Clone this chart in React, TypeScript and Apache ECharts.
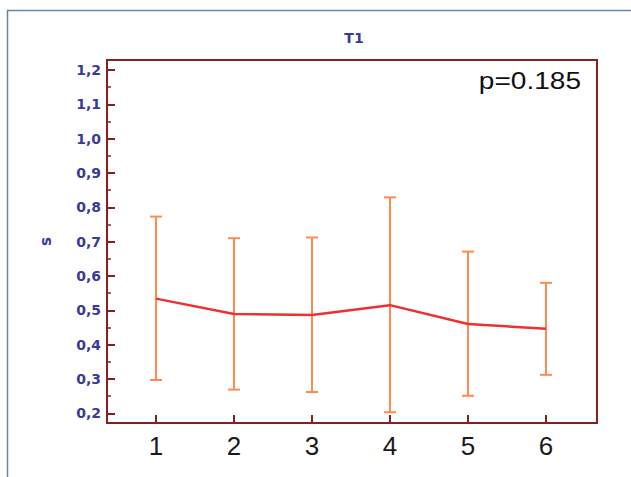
import React, { useEffect, useRef } from "react";
import * as echarts from "echarts";

const categories = [1, 2, 3, 4, 5, 6];
const means = [0.534, 0.489, 0.486, 0.515, 0.46, 0.446];
const upper = [0.773, 0.71, 0.712, 0.829, 0.671, 0.58];
const lower = [0.297, 0.269, 0.262, 0.203, 0.251, 0.312];
const yMajorTicks = [0.2, 0.3, 0.4, 0.5, 0.6, 0.7, 0.8, 0.9, 1.0, 1.1, 1.2];
const yMinorTicks = [0.25, 0.35, 0.45, 0.55, 0.65, 0.75, 0.85, 0.95, 1.05, 1.15];
const titleText = "T1";
const yName = "s";
const pText = "p=0.185";

const AXIS = "#8a1f1f";
const BLUE = "#3a3a98";

export default function App() {
  const ref = useRef<HTMLDivElement>(null);
  useEffect(() => {
    if (!ref.current) return;
    const chart = echarts.init(ref.current, undefined, { renderer: "svg" });
    const yMin = 0.1717;
    const yMax = 1.2291;
    chart.setOption({
      animation: false,
      backgroundColor: "#ffffff",
      title: {
        text: titleText,
        left: 354,
        top: 31,
        textAlign: "center",
        padding: 0,
        textStyle: { fontFamily: "DejaVu Sans", fontSize: 14, fontWeight: "bold", color: BLUE },
      },
      grid: {
        left: 107,
        right: 34,
        top: 60,
        bottom: 54,
        show: true,
        borderColor: AXIS,
        borderWidth: 2,
        backgroundColor: "transparent",
      },
      xAxis: {
        type: "value",
        min: 0.372,
        max: 6.654,
        axisLine: { show: true, lineStyle: { color: AXIS, width: 2 } },
        axisTick: { show: true, inside: true, length: 8, customValues: categories, lineStyle: { color: AXIS, width: 2 } },
        axisLabel: {
          customValues: categories,
          fontFamily: "Liberation Sans",
          fontSize: 26,
          color: "#1a1a1a",
          margin: 10,
        },
        splitLine: { show: false },
      },
      yAxis: [
        {
          type: "value",
          min: yMin,
          max: yMax,
          name: yName,
          nameLocation: "middle",
          nameGap: 54,
          nameRotate: 90,
          nameTextStyle: { fontFamily: "DejaVu Sans", fontSize: 15, fontWeight: "bold", color: BLUE },
          axisLine: { show: true, lineStyle: { color: AXIS, width: 2 } },
          axisTick: { show: true, inside: true, length: 8, customValues: yMajorTicks, lineStyle: { color: AXIS, width: 2 } },
          axisLabel: {
            customValues: yMajorTicks,
            formatter: (v: number) => v.toFixed(1).replace(".", ","),
            fontFamily: "DejaVu Sans",
            fontSize: 14,
            fontWeight: "bold",
            color: BLUE,
            margin: 6,
          },
          splitLine: { show: false },
        },
        {
          type: "value",
          min: yMin,
          max: yMax,
          position: "left",
          axisLine: { show: false },
          axisTick: { show: true, inside: true, length: 4, customValues: yMinorTicks, lineStyle: { color: AXIS, width: 1.5 } },
          axisLabel: { show: false },
          splitLine: { show: false },
        },
      ],
      graphic: [
        {
          type: "rect",
          shape: { x: 7.5, y: 10.5, width: 700, height: 600 },
          style: { fill: "none", stroke: "#6a87a0", lineWidth: 1.5 },
          silent: true,
        },
        {
          type: "text",
          x: 581,
          y: 81,
          scaleX: 1.22,
          style: {
            text: pText,
            align: "right",
            verticalAlign: "middle",
            fontFamily: "Liberation Sans",
            fontSize: 23,
            fill: "#111111",
          },
        },
      ],
      series: [
        {
          type: "custom",
          xAxisIndex: 0,
          yAxisIndex: 0,
          z: 2,
          data: categories.map((c, i) => [c, lower[i], upper[i]]),
          encode: { x: 0, y: [1, 2] },
          renderItem: (params: any, api: any) => {
            const x = api.value(0);
            const lo = api.coord([x, api.value(1)]);
            const hi = api.coord([x, api.value(2)]);
            const hw = 6;
            const style = { stroke: "#ff8b4e", lineWidth: 2 };
            return {
              type: "group",
              children: [
                { type: "line", shape: { x1: lo[0], y1: lo[1], x2: hi[0], y2: hi[1] }, style },
                { type: "line", shape: { x1: hi[0] - hw, y1: hi[1], x2: hi[0] + hw, y2: hi[1] }, style },
                { type: "line", shape: { x1: lo[0] - hw, y1: lo[1], x2: lo[0] + hw, y2: lo[1] }, style },
              ],
            };
          },
        },
        {
          type: "line",
          xAxisIndex: 0,
          yAxisIndex: 0,
          z: 3,
          data: categories.map((c, i) => [c, means[i]]),
          symbol: "none",
          lineStyle: { color: "#ee3030", width: 2.5 },
          itemStyle: { color: "#ee3030" },
        },
      ],
    });
    return () => chart.dispose();
  }, []);
  return (
    <div
      ref={ref}
      style={{ position: "fixed", left: 0, top: 0, width: 631, height: 477 }}
    />
  );
}
